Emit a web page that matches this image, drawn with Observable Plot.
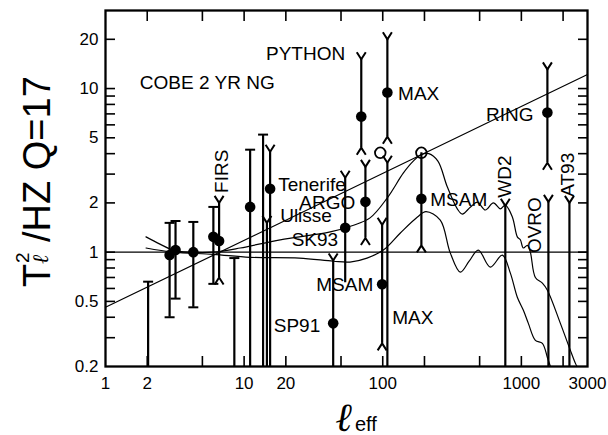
<!DOCTYPE html>
<html><head><meta charset="utf-8">
<script src="https://cdn.jsdelivr.net/npm/d3@7"></script>
<script src="https://cdn.jsdelivr.net/npm/@observablehq/plot@0.6"></script>
<style>
html,body{margin:0;padding:0;background:#fff;}
svg{display:block;}
</style>
</head><body><div id="chart"></div>
<script>
const FONT = "'Liberation Sans', Arial, Helvetica, sans-serif";

// ---- axis ticks ----
const xTickLabels = [1, 2, 5, 10, 20, 50, 100, 1000, 3000];
const xTickMarks  = [2, 5, 10, 20, 50, 100, 200, 500, 1000, 2000];
const yTickLabels = [0.2, 0.5, 1, 2, 5, 10, 20];
const yTickMarks  = [0.3, 0.4, 0.5, 0.6, 0.7, 0.8, 0.9, 1, 2, 3, 4, 5, 6, 7, 8, 9, 10, 20];
const yFloor = 0.2, yCeil = 30, xMin = 1, xMax = 3000;

// ---- COBE 2-yr points (flat caps) ----
const cobeL  = [2.9, 3.2, 4.3, 6.0];
const cobeV  = [0.96, 1.03, 1.00, 1.24];
const cobeLo = [0.40, 0.52, 0.46, 0.64];
const cobeHi = [1.51, 1.55, 1.53, 1.89];

// ---- detections (fork caps) ----
const detName = ["FIRS", "SK93", "ARGO", "PYTHON", "MAX", "MSAM", "MSAM", "RING"];
const detL    = [6.6, 53.6, 75, 70, 108, 99, 190, 1541];
const detV    = [1.17, 1.41, 2.03, 6.74, 9.46, 0.637, 2.12, 7.13];
const detLo   = [0.70, 0.65, 1.22, 4.35, 5.08, 0.277, 1.10, 3.52];
const detHi   = [2.0, 2.85, 3.32, 15.1, 20.0, 1.47, 4.05, 13.1];
const detLoEnd = ["fork", "none", "fork", "fork", "fork", "fork", "fork", "fork"];
const detHiEnd = ["fork", "fork", "fork", "fork", "fork", "fork", "none", "fork"];

// ---- upper limits (bars down to the floor) ----
const limName = ["", "", "", "Tenerife", "Tenerife", "Ulisse", "SP91", "MAX", "WD2", "OVRO", "AT93"];
const limL    = [2.03, 8.5, 11.05, 13.7, 15.4, 14.6, 43.9, 108, 766, 1567, 2222];
const limHi   = [0.66, 0.92, 4.23, 5.23, 4.11, 1.51, 0.89, 3.52, 1.92, 2.03, 2.0];
const limV    = [null, null, 1.89, null, 2.44, null, 0.367, null, null, null, null];
const limEnd  = ["flat", "flat", "flat", "flat", "fork", "fork", "fork", "fork", "fork", "fork", "fork"];

// ---- open circles ----
const openL = [96, 190];
const openV = [4.05, 4.05];

// ---- power law line ----
const plawL = [1, 3000];
const plawV = [0.46, 12.2];

// ---- model curves ----
const upperL = [1.96, 2.47, 3.07, 4.08, 5.97, 9.36, 18.2, 41.8, 60, 81, 108, 141, 166, 190, 215, 250, 292, 345, 375, 430, 481, 550, 628, 705, 766, 861, 935, 983, 1034, 1105, 1161, 1262, 1418, 1541, 1912, 2258, 2455, 2520];
const upperV = [1.24, 1.12, 1.03, 1.00, 1.00, 1.06, 1.19, 1.33, 1.45, 1.62, 2.15, 3.05, 3.6, 3.95, 4.0, 3.6, 2.51, 1.84, 1.71, 1.89, 2.02, 1.81, 2.0, 1.84, 1.94, 1.64, 1.24, 1.19, 1.06, 1.10, 1.00, 0.70, 0.646, 0.585, 0.367, 0.251, 0.209, 0.2];
const lowerL = [1.96, 3.07, 6.0, 11, 25, 44, 58, 77, 101, 134, 178, 205, 260, 307, 363, 420, 489, 597, 729, 833, 935, 1034, 1123, 1262, 1418, 1541, 1620];
const lowerV = [1.06, 1.00, 0.97, 0.93, 0.92, 0.88, 0.87, 0.92, 1.03, 1.31, 1.64, 1.77, 1.57, 0.99, 0.755, 0.88, 1.03, 0.81, 0.96, 0.744, 0.53, 0.441, 0.367, 0.289, 0.277, 0.227, 0.2];

// ---- annotation labels ----
const annText = ["COBE 2 YR NG", "PYTHON", "MAX", "RING", "Tenerife", "Ulisse", "ARGO", "SK93", "MSAM", "SP91", "MAX", "MSAM"];
const annL    = [1.77, 53.6, 129, 1222, 17.6, 18.2, 63.3, 47.7, 85.4, 35.4, 117, 220];
const annV    = [10.9, 16.2, 9.33, 6.93, 2.58, 1.66, 2.00, 1.19, 0.628, 0.352, 0.394, 2.09];
const annSide = ["start", "end", "start", "end", "start", "start", "end", "end", "end", "end", "start", "start"];
const rotText = ["FIRS", "WD2", "OVRO", "AT93"];
const rotL    = [6.94, 766, 1262, 2184];
const rotV    = [2.30, 2.15, 0.987, 2.18];

// ---- build tables ----
const cobe = cobeL.map((l, i) => ({l, v: cobeV[i], lo: cobeLo[i], hi: cobeHi[i]}));
const det = detL.map((l, i) => ({name: detName[i], l, v: detV[i], lo: detLo[i], hi: detHi[i], loEnd: detLoEnd[i], hiEnd: detHiEnd[i]}));
const lim = limL.map((l, i) => ({name: limName[i], l, v: limV[i], hi: limHi[i], lo: yFloor, end: limEnd[i]}));
const opens = openL.map((l, i) => ({l, v: openV[i]}));
const plaw = plawL.map((l, i) => ({l, v: plawV[i]}));
const upper = upperL.map((l, i) => ({l, v: upperV[i]}));
const lower = lowerL.map((l, i) => ({l, v: lowerV[i]}));
const ann = annText.map((t, i) => ({t, l: annL[i], v: annV[i], side: annSide[i]}));
const rot = rotText.map((t, i) => ({t, l: rotL[i], v: rotV[i]}));

// cap symbols
const forkTop = {draw(c) { c.moveTo(-4.5, -7); c.lineTo(0, 0); c.lineTo(4.5, -7); }};
const forkBot = {draw(c) { c.moveTo(-4.5, 7); c.lineTo(0, 0); c.lineTo(4.5, 7); }};
const flat    = {draw(c) { c.moveTo(-5, 0); c.lineTo(5, 0); }};

const BAR = 2.2, LINE = 1.2;
const capOpts = {fill: "none", stroke: "black", strokeWidth: 2};

const chart = Plot.plot({
  width: 608, height: 435,
  marginLeft: 105, marginRight: 21, marginTop: 10, marginBottom: 69,
  style: {fontFamily: FONT, fontSize: "17px", background: "white", color: "black"},
  x: {type: "log", domain: [xMin, xMax], axis: null, label: null},
  y: {type: "log", domain: [yFloor, yCeil], axis: null, label: null},
  marks: [
    // tick labels
    Plot.axisX({ticks: xTickLabels, anchor: "bottom", tickSize: 0, tickPadding: 10, tickFormat: d => String(d), fontSize: 17, label: null}),
    Plot.axisY({ticks: yTickLabels, anchor: "left", tickSize: 0, tickPadding: 7, tickFormat: d => String(d), fontSize: 17, label: null}),
    // inward ticks on all four sides
    Plot.axisX({ticks: xTickMarks, anchor: "bottom", tickSize: -10, tickFormat: () => "", label: null, strokeWidth: 1.6}),
    Plot.axisX({ticks: xTickMarks, anchor: "top", tickSize: -10, tickFormat: () => "", label: null, strokeWidth: 1.6}),
    Plot.axisY({ticks: yTickMarks, anchor: "left", tickSize: -10, tickFormat: () => "", label: null, strokeWidth: 1.6}),
    Plot.axisY({ticks: yTickMarks, anchor: "right", tickSize: -10, tickFormat: () => "", label: null, strokeWidth: 1.6}),

    // reference lines and models
    Plot.ruleY([1], {strokeWidth: LINE}),
    Plot.line(plaw, {x: "l", y: "v", strokeWidth: LINE}),
    Plot.line(upper, {x: "l", y: "v", strokeWidth: LINE, curve: "catmull-rom"}),
    Plot.line(lower, {x: "l", y: "v", strokeWidth: LINE, curve: "catmull-rom"}),

    // COBE
    Plot.ruleX(cobe, {x: "l", y1: "lo", y2: "hi", strokeWidth: BAR}),
    Plot.dot(cobe, {x: "l", y: "lo", symbol: flat, ...capOpts}),
    Plot.dot(cobe, {x: "l", y: "hi", symbol: flat, ...capOpts}),
    Plot.dot(cobe, {x: "l", y: "v", r: 5.3, fill: "black", stroke: "none"}),

    // detections
    Plot.ruleX(det, {x: "l", y1: "lo", y2: "hi", strokeWidth: BAR}),
    Plot.dot(det.filter(d => d.loEnd === "fork"), {x: "l", y: "lo", symbol: forkBot, ...capOpts}),
    Plot.dot(det.filter(d => d.hiEnd === "fork"), {x: "l", y: "hi", symbol: forkTop, ...capOpts}),
    Plot.dot(det, {x: "l", y: "v", r: 5.3, fill: "black", stroke: "none"}),

    // upper limits
    Plot.ruleX(lim, {x: "l", y1: "lo", y2: "hi", strokeWidth: BAR}),
    Plot.dot(lim.filter(d => d.end === "flat"), {x: "l", y: "hi", symbol: flat, ...capOpts}),
    Plot.dot(lim.filter(d => d.end === "fork"), {x: "l", y: "hi", symbol: forkTop, ...capOpts}),
    Plot.dot(lim.filter(d => d.v != null), {x: "l", y: "v", r: 5.3, fill: "black", stroke: "none"}),

    // open circles
    Plot.dot(opens, {x: "l", y: "v", r: 5.3, fill: "none", stroke: "black", strokeWidth: 1.8}),

    // labels
    Plot.text(ann.filter(d => d.side === "start"), {x: "l", y: "v", text: "t", textAnchor: "start", fontSize: 19, fill: "black"}),
    Plot.text(ann.filter(d => d.side === "end"), {x: "l", y: "v", text: "t", textAnchor: "end", fontSize: 19, fill: "black"}),
    Plot.text(rot, {x: "l", y: "v", text: "t", rotate: -90, textAnchor: "start", lineAnchor: "middle", fontSize: 19, fill: "black"}),

    Plot.frame({strokeWidth: 2.3})
  ]
});

document.getElementById("chart").appendChild(chart);

// axis titles
const svg = d3.select(chart);
const yl = svg.append("g").attr("transform", "translate(50,287) rotate(-90)")
  .attr("fill", "black").attr("font-family", FONT).attr("text-anchor", "start");
yl.append("text").attr("x", 0).attr("y", 0).attr("font-size", 38).text("T");
yl.append("text").attr("x", 24).attr("y", -21).attr("font-size", 19).text("2");
yl.append("text").attr("x", 23).attr("y", -2).attr("font-size", 22)
  .attr("font-style", "italic").attr("font-family", "'DejaVu Serif', serif").text("\u2113");
yl.append("text").attr("x", 45).attr("y", 0).attr("font-size", 38).text("/HZ Q=17");

const xl = svg.append("g").attr("fill", "black").attr("text-anchor", "start");
xl.append("text").attr("x", 336).attr("y", 431).attr("font-size", 40)
  .attr("font-family", "'DejaVu Serif', serif").attr("font-style", "italic").attr("font-weight", "bold").text("\u2113");
xl.append("text").attr("x", 355).attr("y", 431).attr("font-size", 20).attr("font-family", FONT).text("eff");
</script></body></html>
